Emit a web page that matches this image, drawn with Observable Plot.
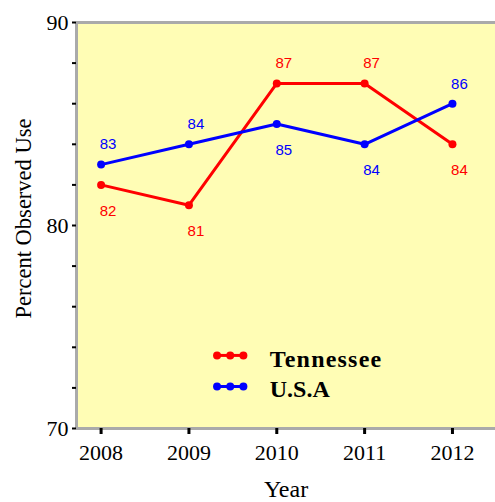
<!DOCTYPE html>
<html><head><meta charset="utf-8">
<script src="https://cdn.jsdelivr.net/npm/d3@7"></script>
<script src="https://cdn.jsdelivr.net/npm/@observablehq/plot@0.6"></script>
<style>body{margin:0;background:#fff;}</style>
</head><body><div id="chart"></div>
<script>
const years = [2008, 2009, 2010, 2011, 2012];
const tennessee = [82, 81, 87, 87, 84];
const usa = [83, 84, 85, 84, 86];
const seriesNames = ["Tennessee", "U.S.A"];
const seriesColors = ["#ff0000", "#0000ff"];
const yMinorTicks = [70, 72, 74, 76, 78, 80, 82, 84, 86, 88, 90];
const yLabelTicks = [70, 80, 90];

const seriesValues = [tennessee, usa];
const rows = [];
seriesNames.forEach((name, s) => {
  years.forEach((yr, i) => {
    const v = seriesValues[s][i];
    const other = seriesValues[1 - s][i];
    rows.push({series: name, color: seriesColors[s], year: yr, value: v, above: v > other});
  });
});

const xDomain = [2007.72, 2012.49];
const yDomain = [70, 90];
const border = "#aaaaaa";

// legend placement (layout, in data units)
const legX = [2009.32, 2009.47, 2009.62];
const legY = [73.6, 72.07];
const legText = [73.4, 71.92];
const legTextX = 2009.92;
const legendDots = [];
const legendLines = [];
seriesNames.forEach((name, s) => {
  legX.forEach(x => legendDots.push({x, y: legY[s], color: seriesColors[s]}));
  legendLines.push({x1: legX[0], x2: legX[2], y: legY[s], color: seriesColors[s]});
});
const legendLabels = seriesNames.map((name, s) => ({name, x: legTextX, y: legText[s]}));

const chart = Plot.plot({
  width: 495, height: 502,
  marginLeft: 76, marginRight: 0, marginTop: 22, marginBottom: 74,
  style: {fontFamily: "Liberation Serif", background: "white", overflow: "visible"},
  x: {domain: xDomain},
  y: {domain: yDomain},
  marks: [
    Plot.frame({fill: "#fffdb5", stroke: null}),
    Plot.ruleY([yDomain[1]], {stroke: border, strokeWidth: 3}),
    Plot.ruleY([yDomain[0]], {stroke: border, strokeWidth: 3}),
    Plot.ruleX([xDomain[0]], {stroke: border, strokeWidth: 3}),
    Plot.axisY(yMinorTicks, {tickSize: 4, tickFormat: () => "", strokeWidth: 2, label: null}),
    Plot.axisY(yLabelTicks, {tickSize: 0, tickPadding: 8, fontSize: 22, label: null, fill: "#000"}),
    Plot.axisX(years, {tickSize: 6, strokeWidth: 3, tickPadding: 10, fontSize: 22, label: null, tickFormat: d => String(d), fill: "#000"}),
    Plot.text(["Year"], {frameAnchor: "bottom", dy: 68, fontSize: 24, fill: "#000"}),
    Plot.text(["Percent Observed Use"], {frameAnchor: "left", textAnchor: "middle", dx: -53, dy: -7, rotate: -90, fontSize: 22.5, fill: "#000"}),
    Plot.line(rows, {x: "year", y: "value", z: "series", stroke: "color", strokeWidth: 3}),
    Plot.dot(rows, {x: "year", y: "value", fill: "color", r: 4}),
    Plot.text(rows.filter(d => d.above), {x: "year", y: "value", text: d => String(d.value), fill: "color", dy: -20, dx: 7, fontSize: 15, fontFamily: "Liberation Sans"}),
    Plot.text(rows.filter(d => !d.above), {x: "year", y: "value", text: d => String(d.value), fill: "color", dy: 26, dx: 7, fontSize: 15, fontFamily: "Liberation Sans"}),
    Plot.ruleY(legendLines, {x1: "x1", x2: "x2", y: "y", stroke: "color", strokeWidth: 3}),
    Plot.dot(legendDots, {x: "x", y: "y", fill: "color", r: 4}),
    Plot.text(legendLabels, {x: "x", y: "y", text: "name", textAnchor: "start", fontSize: 24, fontWeight: "bold", fill: "#000"})
  ]
});
d3.select(chart).selectAll("text").filter(function() { return this.textContent === "Tennessee"; }).attr("letter-spacing", "1.2px");
document.getElementById("chart").appendChild(chart);
</script>
</body></html>
